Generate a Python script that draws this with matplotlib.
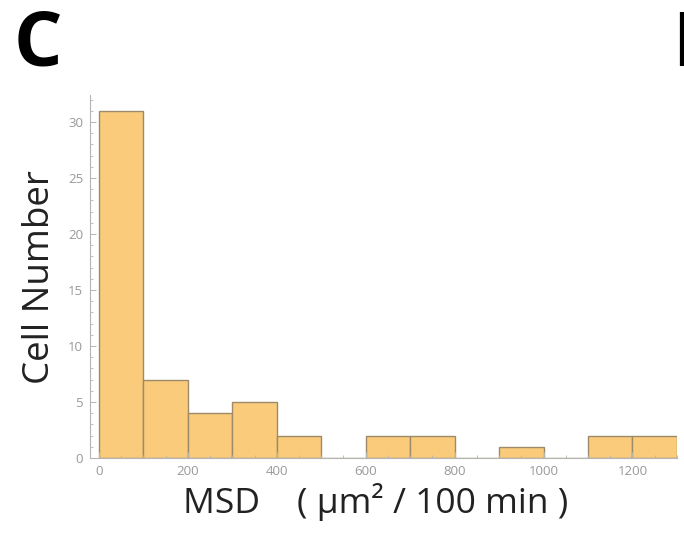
import numpy as np
import matplotlib.pyplot as plt
from matplotlib.ticker import MultipleLocator

plt.rcParams["font.family"] = ["Open Sans", "DejaVu Sans"]

# histogram of MSD values, bins of 100
bin_edges = [0, 100, 200, 300, 400, 500, 600, 700, 800, 900, 1000, 1100, 1200, 1300]
counts = [31, 7, 4, 5, 2, 0, 2, 2, 0, 1, 0, 2, 2]

fig = plt.figure(figsize=(6.84, 5.44), dpi=100)
ax = fig.add_axes([0.1316, 0.158, 0.858, 0.667])

ax.bar(bin_edges[:-1], counts, width=np.diff(bin_edges), align="edge",
       facecolor="#F9CB7B", edgecolor="#9C8A68", linewidth=1.0)

ax.set_xlim(-20, 1300)
ax.set_ylim(0, 32.4)

for s in ["top", "right"]:
    ax.spines[s].set_visible(False)
for s in ["left", "bottom"]:
    ax.spines[s].set_color("#b5b5b5")
    ax.spines[s].set_linewidth(0.8)

ax.xaxis.set_major_locator(MultipleLocator(200))
ax.xaxis.set_minor_locator(MultipleLocator(50))
ax.yaxis.set_major_locator(MultipleLocator(5))
ax.yaxis.set_minor_locator(MultipleLocator(1))
ax.tick_params(which="both", direction="in", colors="#b5b5b5", labelcolor="#999999",
               labelsize=9.5, pad=5)
ax.tick_params(which="major", length=4, width=0.7)
ax.tick_params(which="minor", length=2, width=0.6)

ax.set_ylabel("Cell Number", fontsize=26.5, color="#222222")
ax.set_xlabel("MSD    ( μm² / 100 min )", fontsize=25.5, color="#222222")
ax.yaxis.set_label_coords(-0.055, 0.5)
ax.xaxis.set_label_coords(0.486, -0.07)

fig.text(0.02, 0.984, "C", fontsize=55, fontweight="bold", va="top", ha="left")
fig.text(0.982, 0.984, "D", fontsize=55, fontweight="bold", va="top", ha="left")

fig.savefig("out.png", dpi=100)
